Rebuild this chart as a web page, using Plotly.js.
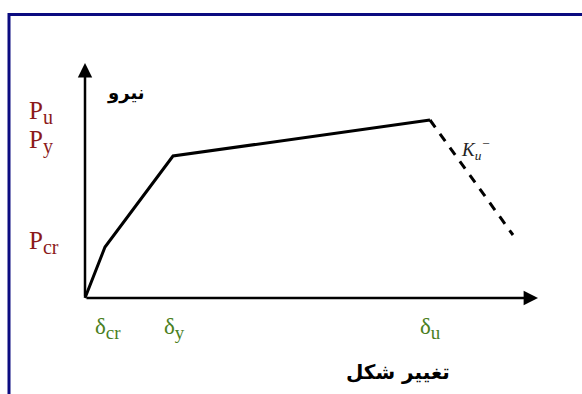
<!DOCTYPE html>
<html>
<head>
<meta charset="utf-8">
<script src="https://cdn.plot.ly/plotly-3.0.1.min.js"></script>
<style>
  html, body { margin: 0; padding: 0; background: #fff; }
  #chart { width: 582px; height: 394px; }
</style>
</head>
<body>
<div id="chart"></div>
<script>
// Idealised force-deformation (pushover) curve
const deformation = [0, 2.0, 8.8, 34.5];     // origin, cracking, yield, ultimate
const force       = [0, 5.1, 14.2, 17.8];
const softeningDef   = [34.5, 42.8];         // post-peak descending branch
const softeningForce = [17.8, 6.3];

// Axis extents (arrow tips)
const axisEndX = 45.3;
const axisEndY = 23.5;

// Force labels on the vertical axis
const forceSymbols  = ['u', 'y', 'cr'];
const forceLabelPos = [18.6, 15.6, 5.6];

// Deformation labels under the horizontal axis
const defSymbols  = ['cr', 'y', 'u'];
const defLabelPos = [0.8, 7.7, 33.3];

const serif = 'Liberation Serif, Times New Roman, serif';
const arabic = 'DejaVu Sans, sans-serif';
const red = '#8b1a1a';
const green = '#4b7f1e';

// main letter with an enlarged subscript
function subLabel(letter, sub, subSize) {
  return letter + '<sub><span style="font-size:' + subSize + 'px">' + sub + '</span></sub>';
}

const traces = [
  {
    x: deformation, y: force, type: 'scatter', mode: 'lines',
    line: { color: '#000', width: 3 }, hoverinfo: 'skip'
  },
  {
    x: softeningDef, y: softeningForce, type: 'scatter', mode: 'lines',
    line: { color: '#000', width: 3, dash: '9px,8px' }, hoverinfo: 'skip'
  }
];

const annotations = [];

// axes drawn as arrows from the origin
const arrowStyle = { showarrow: true, arrowhead: 2, arrowsize: 1.15, arrowwidth: 2.5, arrowcolor: '#000', text: '' };
annotations.push(Object.assign({
  x: axisEndX, y: 0, ax: 0, ay: 0, xref: 'x', yref: 'y', axref: 'x', ayref: 'y'
}, arrowStyle));
annotations.push(Object.assign({
  x: 0, y: axisEndY, ax: 0, ay: 0, xref: 'x', yref: 'y', axref: 'x', ayref: 'y'
}, arrowStyle));

forceSymbols.forEach((s, i) => annotations.push({
  x: -5.8, y: forceLabelPos[i], xref: 'x', yref: 'y', xanchor: 'left', yanchor: 'middle',
  text: subLabel('P', s, 20), showarrow: false, font: { family: serif, size: 25, color: red }
}));

defSymbols.forEach((s, i) => annotations.push({
  x: defLabelPos[i], y: -3.0, xref: 'x', yref: 'y', xanchor: 'left', yanchor: 'middle',
  text: subLabel('δ', s, 19), showarrow: false, font: { family: serif, size: 23, color: green }
}));

// axis titles
annotations.push({
  x: 4.1, y: 20.5, xref: 'x', yref: 'y', xanchor: 'center', yanchor: 'middle',
  text: '<b>نیرو</b>', showarrow: false, font: { family: arabic, size: 18, color: '#000' }
});
annotations.push({
  x: 31.3, y: -7.4, xref: 'x', yref: 'y', xanchor: 'center', yanchor: 'middle',
  text: '<b>تغییر شکل</b>', showarrow: false, font: { family: arabic, size: 20, color: '#000' }
});

// stiffness of the descending branch
annotations.push({
  x: 37.4, y: 14.9, xref: 'x', yref: 'y', xanchor: 'left', yanchor: 'middle',
  text: '<i>K<sub>u</sub><sup>−</sup></i>', showarrow: false,
  font: { family: serif, size: 19, color: '#222' }
});

const layout = {
  width: 582, height: 394,
  margin: { l: 0, r: 0, t: 0, b: 0 },
  paper_bgcolor: '#fff', plot_bgcolor: '#fff',
  showlegend: false,
  xaxis: { range: [-8.5, 49.7], visible: false, showgrid: false, zeroline: false },
  yaxis: { range: [-9.6, 29.8], visible: false, showgrid: false, zeroline: false },
  annotations: annotations,
  shapes: [{
    type: 'rect', xref: 'paper', yref: 'paper',
    x0: 9 / 582, x1: 1.2, y0: -0.2, y1: 1 - 14.5 / 394,
    line: { color: '#0b0b80', width: 3 }, fillcolor: 'rgba(0,0,0,0)'
  }]
};

Plotly.newPlot('chart', traces, layout, { staticPlot: true, displayModeBar: false });
</script>
</body>
</html>
